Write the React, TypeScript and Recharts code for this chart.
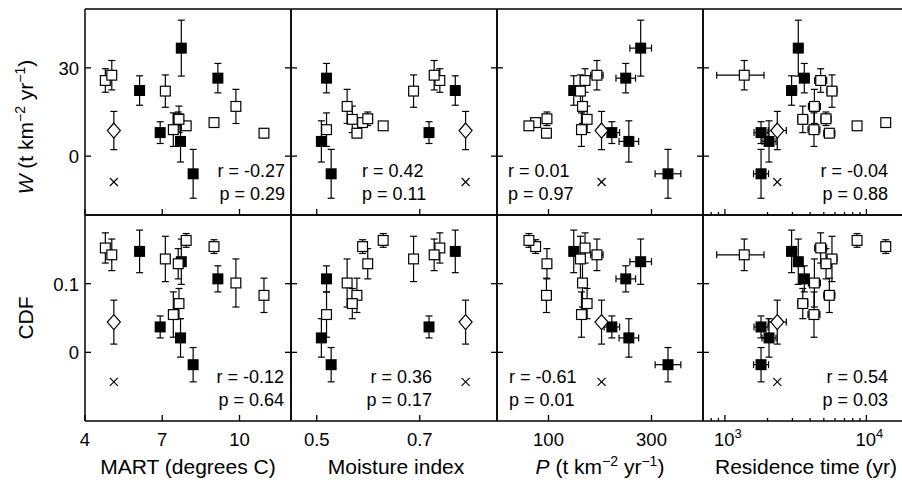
import React from "react";
import { ScatterChart, Scatter, XAxis, YAxis, ErrorBar } from "recharts";

// site order: F1..F6 (filled), O1..O10 (open), D (diamond), X (cross)
const KIND = ["f", "f", "f", "f", "f", "f", "o", "o", "o", "o", "o", "o", "o", "o", "o", "o", "d", "x"];

const W = [36.7, 26.5, 22.3, 8.0, 5.0, -6.0, 25.7, 27.5, 22.1, 16.9, 11.4, 7.8, 12.7, 9.0, 10.3, 12.5, 8.7, -8.8];
const W_ERR = [9.5, 5, 5, 3.7, 7, 8.3, 4, 5, 5.5, 5.8, 0.8, 1.5, 2.3, 5.7, 1, 4.5, 6.5, 0];

const CDF = [0.132, 0.107, 0.147, 0.037, 0.021, -0.018, 0.152, 0.142, 0.136, 0.101, 0.154, 0.083, 0.129, 0.055, 0.163, 0.071, 0.044, -0.043];
const CDF_ERR = [0.033, 0.019, 0.031, 0.016, 0.028, 0.025, 0.022, 0.023, 0.033, 0.035, 0.01, 0.025, 0.022, 0.033, 0.01, 0.022, 0.032, 0];

const MART = [7.74, 9.16, 6.12, 6.92, 7.71, 8.2, 4.79, 5.04, 7.12, 9.86, 9.01, 10.95, 7.62, 7.43, 7.93, 7.65, 5.12, 5.12];
const MOIST = [null, 0.519, 0.769, 0.718, 0.509, 0.528, 0.739, 0.728, 0.688, 0.559, 0.589, 0.578, 0.599, 0.519, 0.629, 0.569, 0.789, 0.789];

const P = [279, 250, 149, 223, 256, 332, 171, 194, 162, 166, 75, 96, 97, 164, 62, 175, 203, 203];
const P_ERR = [21, 19, 8, 15, 19, 25, 8, 12, 6, 8, 0, 0, 0, 6, 0, 6, 0, 0];

const RES = [3300, 3640, 2960, 1800, 2050, 1800, 4750, 1370, 5710, 4290, 13700, 5470, 5180, 4260, 8590, 3550, 2345, 2345];
const RES_ERR = [
  [233, 251], [267, 288], [232, 252], [194, 218], [221, 248], [207, 234],
  [440, 485], [495, 519], [447, 485], [397, 438], [0, 0], [470, 514],
  [406, 440], [394, 434], [0, 0], [278, 302], [320, 371], [0, 0],
];

const RES_TICKS = [800, 900, 1000, 2000, 3000, 4000, 5000, 6000, 7000, 8000, 9000, 10000, 20000];
const R_TOP = ["-0.27", "0.42", "0.01", "-0.04"];
const P_TOP = ["0.29", "0.11", "0.97", "0.88"];
const R_BOT = ["-0.12", "0.36", "-0.61", "0.54"];
const P_BOT = ["0.64", "0.17", "0.01", "0.03"];

const FONT = "'Liberation Sans', Arial, Helvetica, sans-serif";
const SIZE = 206;
const AX = 45;
const COL_X = [85, 291, 497, 703];
const ROW_Y = [9, 215];

type Col = {
  xs: (number | null)[];
  xerr: (number | number[])[] | null;
  domain: [number, number];
  scale: "linear" | "log";
  ticks: number[];
  major?: number[];
  fmt: (v: number) => React.ReactNode;
};

const COLS: Col[] = [
  { xs: MART, xerr: null, domain: [4, 12], scale: "linear", ticks: [4, 7, 10], fmt: (v) => String(v) },
  { xs: MOIST, xerr: null, domain: [0.45, 0.85], scale: "linear", ticks: [0.5, 0.7], fmt: (v) => String(v) },
  { xs: P, xerr: P_ERR, domain: [0, 400], scale: "linear", ticks: [100, 300], fmt: (v) => String(v) },
  {
    xs: RES, xerr: RES_ERR, domain: [700, 20000], scale: "log", ticks: RES_TICKS, major: [1000, 10000],
    fmt: (v) => (v === 1000 || v === 10000 ? "log" : null),
  },
];

const ROWS = [
  { ys: W, yerr: W_ERR, domain: [-20, 50] as [number, number], ticks: [0, 30] },
  { ys: CDF, yerr: CDF_ERR, domain: [-0.1, 0.2] as [number, number], ticks: [0, 0.1] },
];

const makeTick = (side: string, fmt: ((v: number) => React.ReactNode) | null, major?: number[]) => (props: any) => {
  const { x, y, payload } = props;
  const v = payload.value;
  const len = major && !major.includes(v) ? 3 : 6;
  let line = null;
  let label = null;
  if (side === "bottom") line = <line x1={x} x2={x} y1={y} y2={y - len} />;
  if (side === "top") line = <line x1={x} x2={x} y1={y} y2={y + len} />;
  if (side === "left") line = <line x1={x} x2={x + len} y1={y} y2={y} />;
  if (side === "right") line = <line x1={x} x2={x - len} y1={y} y2={y} />;
  if (fmt) {
    const t = fmt(v);
    if (t === "log") {
      label = (
        <text x={x + 3} y={y + 25} textAnchor="middle" fontSize={18.5} fontFamily={FONT} fill="#000">
          <tspan>10</tspan>
          <tspan dy={-8} fontSize={13}>{String(Math.round(Math.log10(v)))}</tspan>
        </text>
      );
    } else if (t != null && side === "bottom") {
      label = (
        <text x={x} y={y + 25} textAnchor="middle" fontSize={18.5} fontFamily={FONT} fill="#000">{t}</text>
      );
    } else if (t != null && side === "left") {
      label = (
        <text x={x - 6} y={y + 7} textAnchor="end" fontSize={18.5} fontFamily={FONT} fill="#000">{t}</text>
      );
    }
  }
  return (
    <g>
      <g stroke="#000" strokeWidth={1.3}>{line}</g>
      {label}
    </g>
  );
};

const FilledSq = (p: any) => <rect x={p.cx - 5.5} y={p.cy - 5.5} width={11} height={11} fill="#000" />;
const OpenSq = (p: any) => (
  <rect x={p.cx - 4.9} y={p.cy - 4.9} width={9.8} height={9.8} fill="#fff" stroke="#000" strokeWidth={1.2} />
);
const Diamond = (p: any) => (
  <polygon
    points={`${p.cx},${p.cy - 7.5} ${p.cx + 6.5},${p.cy} ${p.cx},${p.cy + 7.5} ${p.cx - 6.5},${p.cy}`}
    fill="#fff" stroke="#000" strokeWidth={1.2}
  />
);
const Cross = (p: any) => (
  <g stroke="#000" strokeWidth={1.2}>
    <line x1={p.cx - 4} y1={p.cy - 4} x2={p.cx + 4} y2={p.cy + 4} />
    <line x1={p.cx - 4} y1={p.cy + 4} x2={p.cx + 4} y2={p.cy - 4} />
  </g>
);

function points(col: Col, row: (typeof ROWS)[number], kind: string) {
  return KIND.map((k, i) => ({
    k,
    x: col.xs[i],
    y: row.ys[i],
    ex: col.xerr ? col.xerr[i] : 0,
    ey: row.yerr[i],
  })).filter((d) => d.k === kind && d.x != null);
}

function Panel({ ci, ri }: { ci: number; ri: number }) {
  const col = COLS[ci];
  const row = ROWS[ri];
  const axisLine = { stroke: "#000", strokeWidth: 1.5 };
  const xLabels = ri === 1 ? col.fmt : null;
  const yLabels = ci === 0 ? (v: number) => String(v) : null;
  const series: [string, (p: any) => React.ReactElement][] = [
    ["f", FilledSq],
    ["o", OpenSq],
    ["d", Diamond],
  ];
  return (
    <div style={{ position: "absolute", left: COL_X[ci] - AX, top: ROW_Y[ri] - AX }}>
      <ScatterChart width={SIZE + 2 * AX} height={SIZE + 2 * AX} margin={{ top: 0, right: 0, bottom: 0, left: 0 }}>
        <XAxis
          xAxisId="b" orientation="bottom" type="number" dataKey="x" scale={col.scale} domain={col.domain}
          allowDataOverflow ticks={col.ticks} interval={0} height={AX} tickSize={0} tickMargin={0}
          tickLine={false} axisLine={axisLine} tick={makeTick("bottom", xLabels, col.major)}
        />
        <XAxis
          xAxisId="t" orientation="top" type="number" scale={col.scale} domain={col.domain}
          allowDataOverflow ticks={col.ticks} interval={0} height={AX} tickSize={0} tickMargin={0}
          tickLine={false} axisLine={axisLine} tick={makeTick("top", null, col.major)}
        />
        <YAxis
          yAxisId="l" orientation="left" type="number" dataKey="y" domain={row.domain}
          allowDataOverflow ticks={row.ticks} interval={0} width={AX} tickSize={0} tickMargin={0}
          tickLine={false} axisLine={axisLine} tick={makeTick("left", yLabels)}
        />
        <YAxis
          yAxisId="r" orientation="right" type="number" domain={row.domain}
          allowDataOverflow ticks={row.ticks} interval={0} width={AX} tickSize={0} tickMargin={0}
          tickLine={false} axisLine={axisLine} tick={makeTick("right", null)}
        />
        {series.map(([kind, shape]) => (
          <Scatter
            key={kind} data={points(col, row, kind)} xAxisId="b" yAxisId="l" shape={shape}
            isAnimationActive={false}
          >
            <ErrorBar dataKey="ey" direction="y" width={3.5} stroke="#000" strokeWidth={1.2} isAnimationActive={false} />
            {col.xerr && (
              <ErrorBar dataKey="ex" direction="x" width={3.5} stroke="#000" strokeWidth={1.2} isAnimationActive={false} />
            )}
          </Scatter>
        ))}
        <Scatter data={points(col, row, "x")} xAxisId="b" yAxisId="l" shape={Cross} isAnimationActive={false} />
      </ScatterChart>
    </div>
  );
}

const sup = (s: string) => (
  <>
    <tspan dy={-8} fontSize={14}>{s}</tspan>
    <tspan dy={8}> </tspan>
  </>
);

export default function App() {
  const stats = [
    { r: R_TOP, p: P_TOP, top: 9 },
    { r: R_BOT, p: P_BOT, top: 215 },
  ];
  const anchors = [
    [{ x: 285, a: "end" }, { x: 362, a: "start" }, { x: 508, a: "start" }, { x: 888, a: "end" }],
    [{ x: 284, a: "end" }, { x: 432, a: "end" }, { x: 509, a: "start" }, { x: 888, a: "end" }],
  ];
  return (
    <div
      style={{
        position: "absolute", left: 0, top: 0, width: 902, height: 487, overflow: "hidden",
        background: "#fff", fontFamily: FONT,
      }}
    >
      {[0, 1].map((ri) => [0, 1, 2, 3].map((ci) => <Panel key={`${ri}-${ci}`} ci={ci} ri={ri} />))}
      <svg width={902} height={487} style={{ position: "absolute", left: 0, top: 0, pointerEvents: "none" }}>
        <g fontFamily={FONT} fill="#000" fontSize={18}>
          {stats.map((s, ri) =>
            [0, 1, 2, 3].map((ci) => (
              <g key={`s${ri}${ci}`}>
                <text x={anchors[ri][ci].x} y={s.top + 168} textAnchor={anchors[ri][ci].a as any}>{`r = ${s.r[ci]}`}</text>
                <text x={anchors[ri][ci].x} y={s.top + 191} textAnchor={anchors[ri][ci].a as any}>{`p = ${s.p[ci]}`}</text>
              </g>
            ))
          )}
        </g>
        <g fontFamily={FONT} fill="#000" fontSize={21}>
          <text x={188} y={474} textAnchor="middle">MART (degrees C)</text>
          <text x={396} y={474} textAnchor="middle">Moisture index</text>
          <text x={600} y={474} textAnchor="middle">
            <tspan fontStyle="italic">P</tspan>
            <tspan> (t km</tspan>
            {sup("−2")}
            <tspan>yr</tspan>
            <tspan dy={-8} fontSize={14}>−1</tspan>
            <tspan dy={8}>)</tspan>
          </text>
          <text x={806} y={474} textAnchor="middle">Residence time (yr)</text>
          <text transform="translate(33,127) rotate(-90)" textAnchor="middle">
            <tspan fontStyle="italic">W</tspan>
            <tspan> (t km</tspan>
            {sup("−2")}
            <tspan>yr</tspan>
            <tspan dy={-8} fontSize={14}>−1</tspan>
            <tspan dy={8}>)</tspan>
          </text>
          <text transform="translate(33,318) rotate(-90)" textAnchor="middle">CDF</text>
        </g>
      </svg>
    </div>
  );
}
